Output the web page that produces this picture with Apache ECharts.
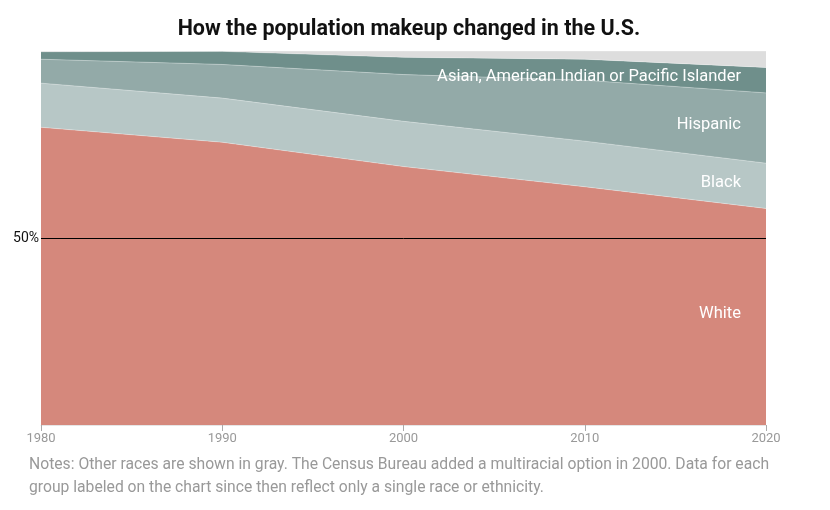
<!DOCTYPE html>
<html><head><meta charset="utf-8">
<script src="https://cdn.jsdelivr.net/npm/echarts@6/dist/echarts.min.js"></script>
<style>html,body{margin:0;padding:0;background:#fff}#c{width:830px;height:510px}</style>
</head><body><div id="c"></div>
<script>
var years = ['1980', '1990', '2000', '2010', '2020'];
var white = [79.6, 75.6, 69.1, 63.7, 57.9];
var black = [11.8, 11.8, 12.1, 12.2, 12.1];
var hispanic = [6.4, 9.0, 12.5, 16.3, 18.8];
var asian = [2.0, 3.5, 4.6, 5.6, 6.8];
var other = [0.2, 0.1, 1.7, 2.2, 4.4];
var seriesNames = ['White', 'Black', 'Hispanic', 'Asian, American Indian or Pacific Islander', 'Other'];
var colors = ['#d5887c', '#b7c7c6', '#93aaa8', '#6f8f8b', '#dddddd'];
var notes = 'Notes: Other races are shown in gray. The Census Bureau added a multiracial option in 2000. Data for each\ngroup labeled on the chart since then reflect only a single race or ethnicity.';

var chart = echarts.init(document.getElementById('c'));
var all = [white, black, hispanic, asian, other];
var series = all.map(function (arr, i) {
  var s = {
    name: seriesNames[i], type: 'line', stack: 'pop',
    data: arr,
    symbol: 'none', showSymbol: false,
    lineStyle: { width: 0.6, color: 'rgba(255,255,255,0.5)' },
    areaStyle: { color: colors[i], opacity: 1 },
    itemStyle: { color: colors[i] },
    silent: true
  };
  if (i === 0) {
    s.markLine = {
      silent: true, symbol: 'none', z: 10,
      label: { show: false },
      lineStyle: { color: '#000', width: 1, type: 'solid' },
      data: [{ yAxis: 50 }]
    };
  }
  return s;
});
chart.setOption({
  animation: false,
  title: {
    text: 'How the population makeup changed in the U.S.',
    left: 404, top: 14, textAlign: 'center',
    textStyle: { fontFamily: 'Roboto', fontWeight: 'bold', fontSize: 21.5, color: '#111' }
  },
  grid: { left: 41, right: 64, top: 51, bottom: 85 },
  xAxis: {
    type: 'category', data: years, boundaryGap: false,
    axisLine: { show: true, lineStyle: { color: '#e6e6e6' } },
    axisTick: { show: true, length: 6, alignWithLabel: true, lineStyle: { color: '#aaa' } },
    splitLine: { show: false },
    axisLabel: { color: '#999', fontSize: 13, fontFamily: 'Roboto', margin: 7 }
  },
  yAxis: {
    type: 'value', min: 0, max: 100, interval: 50,
    axisLine: { show: false }, axisTick: { show: false }, splitLine: { show: false },
    axisLabel: { color: '#111', fontSize: 14, fontFamily: 'Roboto', margin: 2,
      formatter: function (v) { return v === 50 ? '50%' : ''; } }
  },
  series: series,
  graphic: [
    { type: 'text', right: 89, top: 68, style: { text: seriesNames[3], fill: '#fff', font: '16.5px Roboto' }, z: 100 },
    { type: 'text', right: 89, top: 116, style: { text: seriesNames[2], fill: '#fff', font: '16.5px Roboto' }, z: 100 },
    { type: 'text', right: 89, top: 174, style: { text: seriesNames[1], fill: '#fff', font: '16.5px Roboto' }, z: 100 },
    { type: 'text', right: 89, top: 305, style: { text: seriesNames[0], fill: '#fff', font: '16.5px Roboto' }, z: 100 },
    { type: 'text', left: 29, top: 454, style: { text: notes, fill: '#999', font: '15.7px Roboto', lineHeight: 23 }, z: 100 }
  ]
});
</script></body></html>
